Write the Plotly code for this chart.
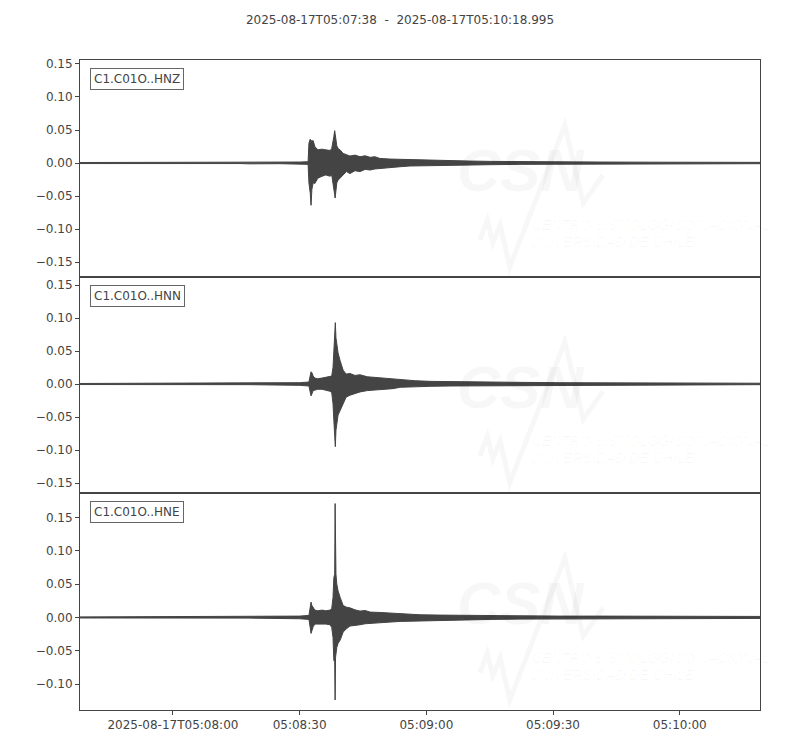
import pandas as pd
import plotly.graph_objects as go
from plotly.subplots import make_subplots

START = "2025-08-17T05:07:38"
TITLE = "2025-08-17T05:07:38  -  2025-08-17T05:10:18.995"
CHANNELS = ["C1.C01O..HNZ", "C1.C01O..HNN", "C1.C01O..HNE"]

# envelope readings: time offset (s from start), upper and lower amplitude
hnz_t = [0, 37.9, 40, 47.4, 52, 54.0, 54.2, 54.5, 54.7, 54.9, 55.2, 55.6, 56.3, 57.3, 58.2, 59.2, 59.6,
         59.9, 60.1, 60.3, 60.4, 60.5, 60.6, 60.8, 61.1, 61.6, 62.3, 63.1, 63.9, 65.1, 66.3, 67.5, 68.7,
         69.8, 71.0, 73.4, 75.8, 78.1, 80.5, 82.9, 87.6, 92.3, 97.1, 104.2, 113.6, 123.1, 135.0, 146.8,
         160.995]
hnz_up = [0.0008, 0.0008, 0.0015, 0.001, 0.0015, 0.002, 0.030, 0.036, 0.034, 0.033, 0.034, 0.025, 0.020,
          0.021, 0.020, 0.019, 0.022, 0.030, 0.040, 0.049, 0.042, 0.036, 0.032, 0.026, 0.022, 0.0197,
          0.0146, 0.012, 0.0106, 0.012, 0.0096, 0.011, 0.0086, 0.0096, 0.007, 0.006, 0.0056, 0.0045, 0.004,
          0.0035, 0.0035, 0.003, 0.0025, 0.002, 0.0018, 0.0015, 0.0013, 0.0015, 0.001]
hnz_lo = [-0.0008, -0.0008, -0.0012, -0.001, -0.0015, -0.002, -0.030, -0.045, -0.064, -0.040, -0.030,
          -0.031, -0.023, -0.020, -0.018, -0.020, -0.018, -0.025, -0.040, -0.048, -0.053, -0.045, -0.038,
          -0.030, -0.026, -0.023, -0.018, -0.013, -0.016, -0.0116, -0.013, -0.0096, -0.0106, -0.009,
          -0.008, -0.0066, -0.0056, -0.0045, -0.004, -0.0035, -0.0032, -0.003, -0.0025, -0.002, -0.0015,
          -0.0013, -0.0012, -0.001, -0.001]

hnn_t = [0, 40, 47.4, 52, 54.2, 54.5, 54.7, 54.9, 55.2, 55.6, 56.3, 57.3, 58.2, 59.2, 59.6, 59.9, 60.1,
         60.3, 60.45, 60.6, 60.8, 61.1, 61.6, 62.3, 63.0, 63.9, 65.1, 66.3, 68.0, 69.8, 72.2, 74.1, 75.8,
         79.3, 82.9, 87.6, 94.7, 104.2, 113.6, 123.1, 135.0, 146.8, 160.995]
hnn_up = [0.0008, 0.001, 0.0015, 0.002, 0.003, 0.015, 0.0186, 0.017, 0.012, 0.009, 0.008, 0.009, 0.010,
          0.011, 0.012, 0.025, 0.050, 0.065, 0.093, 0.070, 0.058, 0.047, 0.035, 0.021, 0.015, 0.016, 0.013,
          0.014, 0.011, 0.010, 0.009, 0.008, 0.006, 0.005, 0.004, 0.0035, 0.003, 0.0025, 0.002, 0.0018,
          0.0015, 0.0015, 0.0012]
hnn_lo = [-0.0008, -0.001, -0.0015, -0.002, -0.003, -0.012, -0.018, -0.015, -0.010, -0.009, -0.008,
          -0.008, -0.009, -0.011, -0.013, -0.030, -0.055, -0.065, -0.095, -0.070, -0.060, -0.047, -0.040,
          -0.029, -0.020, -0.017, -0.014, -0.012, -0.010, -0.009, -0.008, -0.007, -0.005, -0.004, -0.0035,
          -0.003, -0.0025, -0.002, -0.002, -0.0015, -0.0015, -0.0012, -0.001]

hne_t = [0, 40, 47.4, 52, 54.2, 54.5, 54.7, 54.9, 55.2, 55.6, 56.3, 57.3, 58.2, 59.2, 59.6, 59.9, 60.1,
         60.3, 60.4, 60.5, 60.6, 60.8, 61.1, 61.6, 62.3, 63.1, 63.9, 65.1, 66.3, 67.5, 68.7, 71.0, 73.4,
         75.8, 78.1, 80.5, 85.2, 92.3, 97.1, 104.2, 113.6, 123.1, 135.0, 146.8, 160.995]
hne_up = [0.0008, 0.001, 0.0015, 0.002, 0.003, 0.020, 0.023, 0.018, 0.014, 0.011, 0.010, 0.011, 0.010,
          0.011, 0.013, 0.030, 0.060, 0.065, 0.171, 0.080, 0.065, 0.050, 0.040, 0.030, 0.018, 0.0154,
          0.0144, 0.0114, 0.0095, 0.0104, 0.008, 0.0075, 0.0065, 0.0065, 0.0055, 0.004, 0.0035, 0.003,
          0.0025, 0.0022, 0.002, 0.002, 0.0018, 0.0018, 0.0015]
hne_lo = [-0.0008, -0.001, -0.0015, -0.002, -0.003, -0.015, -0.024, -0.020, -0.014, -0.010, -0.009,
          -0.010, -0.010, -0.011, -0.015, -0.030, -0.065, -0.064, -0.124, -0.060, -0.055, -0.045, -0.039,
          -0.034, -0.022, -0.017, -0.013, -0.012, -0.011, -0.0095, -0.0085, -0.008, -0.007, -0.006,
          -0.0055, -0.0045, -0.004, -0.0035, -0.003, -0.0025, -0.002, -0.002, -0.0018, -0.0015, -0.0015]

Y_RANGES = [[-0.1727, 0.156], [-0.165, 0.162], [-0.139, 0.187]]
Y_TICKS = [[0.15, 0.10, 0.05, 0.0, -0.05, -0.10, -0.15],
           [0.15, 0.10, 0.05, 0.0, -0.05, -0.10, -0.15],
           [0.15, 0.10, 0.05, 0.0, -0.05, -0.10]]
X_TICKS = ["2025-08-17 05:08:00", "2025-08-17 05:08:30", "2025-08-17 05:09:00",
           "2025-08-17 05:09:30", "2025-08-17 05:10:00"]
X_TICKTEXT = ["2025-08-17T05:08:00", "05:08:30", "05:09:00", "05:09:30", "05:10:00"]

INK = "#444444"
FONT = "DejaVu Sans"

t0 = pd.Timestamp(START)


def to_time(offsets):
    return [t0 + pd.to_timedelta(s, unit="s") for s in offsets]


fig = make_subplots(rows=3, cols=1, shared_xaxes=True, vertical_spacing=0)

series = [(hnz_t, hnz_up, hnz_lo), (hnn_t, hnn_up, hnn_lo), (hne_t, hne_up, hne_lo)]
for i, (t, up, lo) in enumerate(series):
    times = to_time(t)
    xs = times + times[::-1]
    ys = up + lo[::-1]
    fig.add_trace(go.Scatter(x=xs, y=ys, mode="lines", fill="toself", fillcolor=INK,
                             line=dict(color=INK, width=1), hoverinfo="skip", showlegend=False),
                  row=i + 1, col=1)

domains = [[0.666, 1.0], [0.334, 0.666], [0.0, 0.334]]
x_end = t0 + pd.to_timedelta(160.995, unit="s")
wm = "rgba(0,0,0,0.03)"
for i in range(3):
    n = "" if i == 0 else str(i + 1)
    fig.layout["yaxis" + n].update(
        domain=domains[i], range=Y_RANGES[i], tickvals=Y_TICKS[i],
        ticktext=[("%.2f" % v).replace("-", "\u2212") for v in Y_TICKS[i]],
        showgrid=False, zeroline=False, showline=True, linecolor=INK, linewidth=1, mirror=True,
        ticks="outside", ticklen=4, tickcolor=INK, tickfont=dict(family=FONT, size=12, color=INK))
    fig.layout["xaxis" + n].update(
        range=[t0, x_end], showgrid=False, zeroline=False, showline=True, linecolor=INK, linewidth=1,
        mirror=True, ticks="outside" if i == 2 else "", ticklen=4, tickcolor=INK,
        tickvals=X_TICKS, ticktext=X_TICKTEXT, showticklabels=(i == 2),
        tickfont=dict(family=FONT, size=12, color=INK))
    xr = "x" + n + " domain"
    yr = "y" + n + " domain"
    # faint watermark
    fig.add_shape(type="path", xref=xr, yref=yr, layer="below",
                  path="M 0.588 0.171 L 0.599 0.263 L 0.607 0.157 L 0.618 0.240 L 0.632 0.046 "
                       "L 0.713 0.700 L 0.740 0.341 L 0.769 0.470",
                  line=dict(color=wm, width=5))
    fig.add_annotation(x=0.552, y=0.49, xref=xr, yref=yr, xanchor="left", yanchor="middle",
                       text="<b><i>CSN</i></b>", showarrow=False,
                       font=dict(family="Liberation Sans", size=60, color=wm))
    fig.add_annotation(x=0.662, y=0.24, xref=xr, yref=yr, xanchor="left", yanchor="middle",
                       text="<i>CENTRO SISMOLÓGICO NACIONAL</i>", showarrow=False,
                       font=dict(family="Liberation Sans", size=14, color=wm))
    fig.add_annotation(x=0.659, y=0.163, xref=xr, yref=yr, xanchor="left", yanchor="middle",
                       text="<i>UNIVERSIDAD DE CHILE</i>", showarrow=False,
                       font=dict(family="Liberation Sans", size=14, color=wm))
    fig.add_annotation(x=0.015, y=0.963, xref=xr, yref=yr, xanchor="left", yanchor="top",
                       text=CHANNELS[i], showarrow=False, font=dict(family=FONT, size=12, color=INK),
                       bordercolor="#666666", borderwidth=1, borderpad=3, bgcolor="white")

# the page body adds an 8px offset; size the figure so the plot area lands where the reference has it
fig.update_layout(
    width=792, height=742, plot_bgcolor="white", paper_bgcolor="white",
    margin=dict(l=72, r=40, t=52, b=40),
    title=dict(text=TITLE, x=(400 - 8) / 792, xanchor="center", y=1 - 12 / 742, yanchor="middle",
               font=dict(family=FONT, size=12, color=INK)),
    font=dict(family=FONT, color=INK),
)

fig.write_html("out.html")
